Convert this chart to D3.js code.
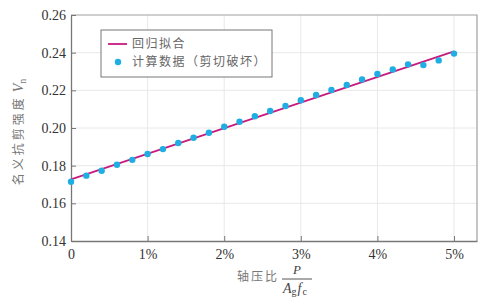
<!DOCTYPE html>
<html><head><meta charset="utf-8">
<script src="https://cdn.jsdelivr.net/npm/d3@7"></script>
<style>body{margin:0;background:#fff}svg{display:block}</style>
</head><body>
<svg id="c" width="485" height="304"></svg>
<script>
const ratios = [0,0.2,0.4,0.6,0.8,1.0,1.2,1.4,1.6,1.8,2.0,2.2,2.4,2.6,2.8,3.0,3.2,3.4,3.6,3.8,4.0,4.2,4.4,4.6,4.8,5.0];
const shearStrength = [0.1715,0.1747,0.1773,0.1805,0.1831,0.1862,0.1888,0.1920,0.1948,0.1975,0.2007,0.2033,0.2062,0.2090,0.2117,0.2147,0.2175,0.2202,0.2228,0.2258,0.2287,0.2311,0.2338,0.2334,0.2359,0.2395];
const fitX = [0, 5.0];
const fitY = [0.1727, 0.2407];
const xTicks = [0,1,2,3,4,5];
const xTickLabels = ["0","1%","2%","3%","4%","5%"];
const yTicks = [0.14,0.16,0.18,0.20,0.22,0.24,0.26];
const legendLabels = ["回归拟合","计算数据（剪切破坏）"];

const svg = d3.select("#c");
const L=71,R=477,T=15,B=241;
const x = d3.scaleLinear().domain([0,5.3]).range([L,R]);
const y = d3.scaleLinear().domain([0.14,0.26]).range([B,T]);
const serif = "'Liberation Serif','DejaVu Serif',serif";
const cjk = "'Noto Sans CJK SC',sans-serif";

// grid
svg.append("g").selectAll("line").data(xTicks.slice(1)).join("line")
  .attr("x1",d=>x(d)).attr("x2",d=>x(d)).attr("y1",T).attr("y2",B)
  .attr("stroke","#e8e8e8").attr("stroke-width",1);
svg.append("g").selectAll("line").data(yTicks.slice(1,-1)).join("line")
  .attr("x1",L).attr("x2",R).attr("y1",d=>y(d)).attr("y2",d=>y(d))
  .attr("stroke","#e8e8e8").attr("stroke-width",1);

// frame top/right
svg.append("path").attr("d",`M${L},${T}H${R}V${B}`).attr("fill","none").attr("stroke","#a0a0a0").attr("stroke-width",1.2);

// axes
const xAxis = svg.append("g").attr("transform",`translate(0,${B})`)
  .call(d3.axisBottom(x).tickValues(xTicks).tickFormat((d,i)=>xTickLabels[i]).tickSize(-5).tickSizeOuter(0).tickPadding(8));
const yAxis = svg.append("g").attr("transform",`translate(${L},0)`)
  .call(d3.axisLeft(y).tickValues(yTicks).tickFormat(d3.format(".2f")).tickSize(-5).tickSizeOuter(0).tickPadding(5));
[xAxis,yAxis].forEach(a=>{
  a.select(".domain").attr("stroke","#777").attr("stroke-width",1.3);
  a.selectAll(".tick line").attr("stroke","#777");
  a.selectAll("text").attr("font-family",serif).attr("font-size",14).attr("fill","#333");
});

// fit line
svg.append("path").datum(fitX.map((v,i)=>[v,fitY[i]]))
  .attr("d",d3.line().x(d=>x(d[0])).y(d=>y(d[1])))
  .attr("stroke","#c81a7e").attr("stroke-width",1.8).attr("fill","none");

// points
svg.append("g").selectAll("circle").data(ratios.map((v,i)=>[v,shearStrength[i]])).join("circle")
  .attr("cx",d=>x(d[0])).attr("cy",d=>y(d[1])).attr("r",3.2).attr("fill","#1eaee3");

// legend
const lg = svg.append("g");
lg.append("rect").attr("x",101).attr("y",30).attr("width",171).attr("height",47)
  .attr("fill","#fff").attr("stroke","#777").attr("stroke-width",1);
lg.append("line").attr("x1",108).attr("x2",127).attr("y1",44).attr("y2",44).attr("stroke","#c81a7e").attr("stroke-width",1.8);
lg.append("circle").attr("cx",118).attr("cy",62).attr("r",3.2).attr("fill","#1eaee3");
lg.selectAll("text").data(legendLabels).join("text")
  .attr("x",132).attr("y",(d,i)=>44+i*18).attr("dy","0.35em")
  .attr("font-family",cjk).attr("font-size",12).attr("fill","#666").attr("letter-spacing",1.5)
  .text(d=>d);

// y label
const yl = svg.append("text").attr("transform",`translate(23,${(T+B)/2+4}) rotate(-90)`)
  .attr("text-anchor","middle").attr("font-size",12).attr("fill","#777").attr("font-family",cjk);
yl.append("tspan").attr("letter-spacing",3).text("名义抗剪强度");
yl.append("tspan").attr("font-family",serif).attr("font-style","italic").attr("font-size",14).attr("dx",3).text("V");
yl.append("tspan").attr("font-family",serif).attr("font-size",10).attr("dy",3).text("n");

// x label
svg.append("text").attr("x",237).attr("y",277).attr("dy","0.35em").attr("font-family",cjk)
  .attr("font-size",12).attr("fill","#777").attr("letter-spacing",2).text("轴压比");
svg.append("text").attr("x",297).attr("y",274).attr("text-anchor","middle")
  .attr("font-family",serif).attr("font-style","italic").attr("font-size",13).attr("fill","#444").text("P");
svg.append("line").attr("x1",282).attr("x2",312).attr("y1",279).attr("y2",279).attr("stroke","#555").attr("stroke-width",1);
const den = svg.append("text").attr("x",283).attr("y",293).attr("font-family",serif).attr("font-size",14).attr("fill","#444");
den.append("tspan").attr("font-style","italic").text("A");
den.append("tspan").attr("font-size",10).attr("dy",2).text("g");
den.append("tspan").attr("font-style","italic").attr("dy",-2).attr("dx",1).text("f");
den.append("tspan").attr("font-size",10).attr("dy",2).attr("dx",1).text("c");
</script>
</body></html>
